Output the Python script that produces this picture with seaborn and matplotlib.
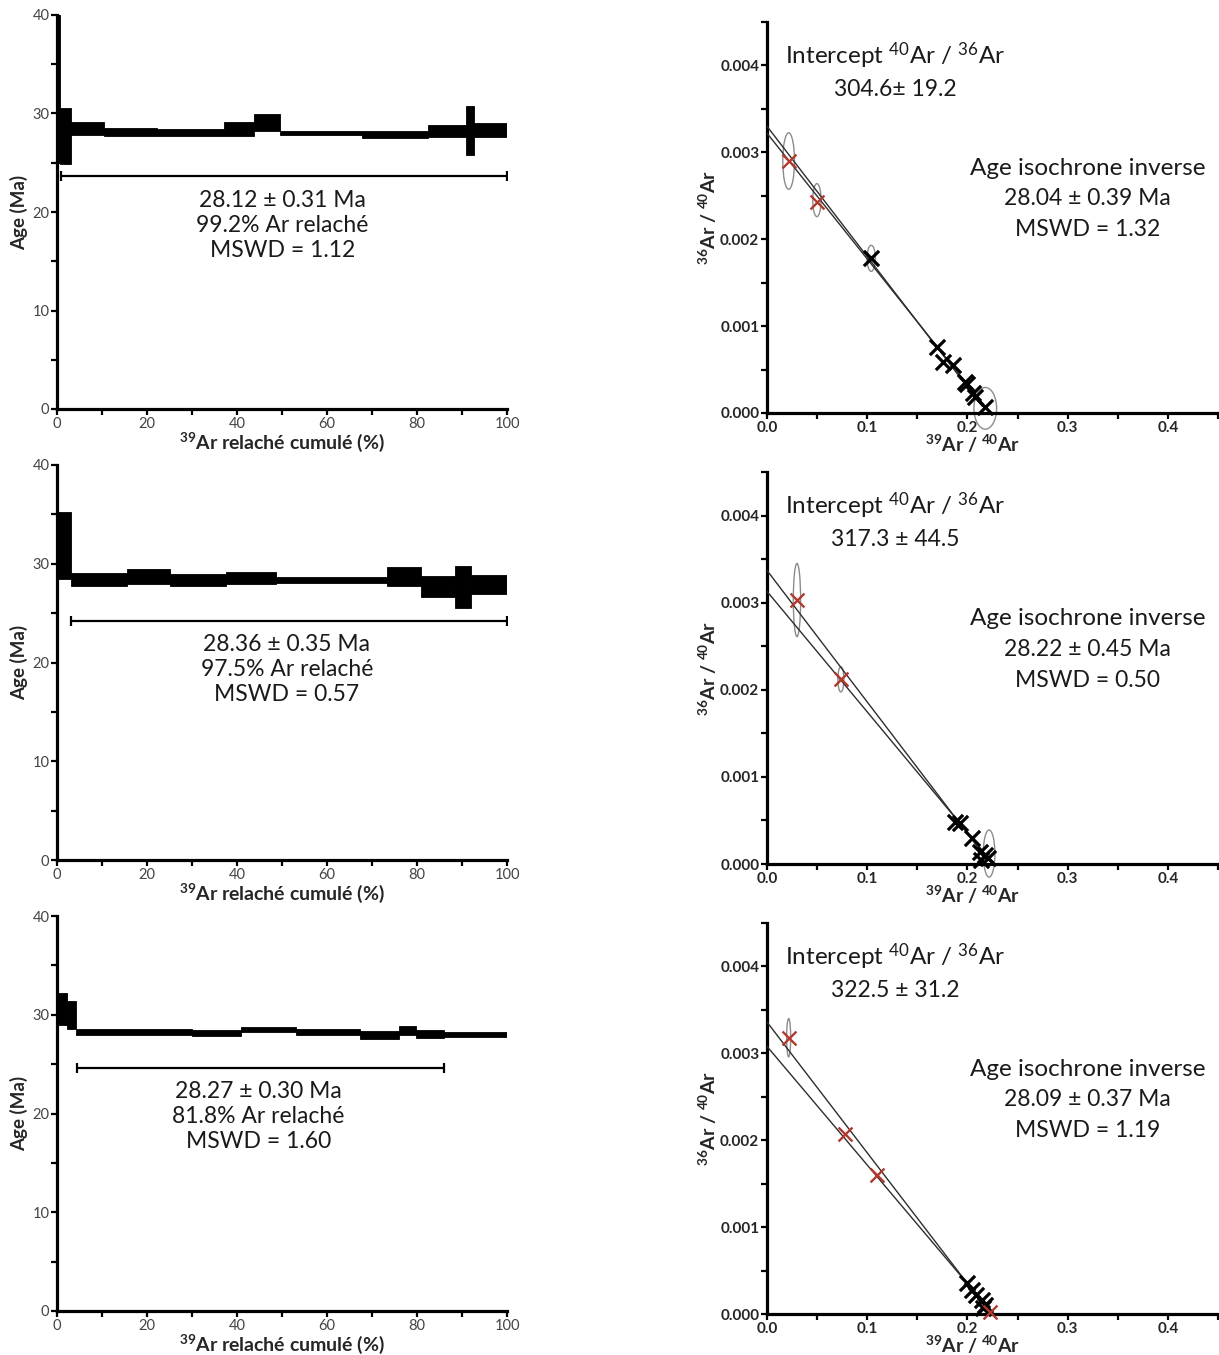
import numpy as np
import matplotlib
matplotlib.use("Agg")
import matplotlib.pyplot as plt
from matplotlib.patches import Ellipse
from matplotlib.ticker import MultipleLocator, FormatStrFormatter
import seaborn as sns

sns.set_style("ticks")
plt.rcParams["font.family"] = ["Lato", "DejaVu Sans"]
plt.rcParams["mathtext.fontset"] = "custom"
plt.rcParams["mathtext.rm"] = "Lato"
plt.rcParams["mathtext.bf"] = "Lato:bold"
plt.rcParams["mathtext.it"] = "Lato:italic"

RED = "#b0392e"
GREY_ELL = "#8c8c8c"

# --- age spectra: step edges (cumulative % 39Ar), age (Ma), half-height (Ma) ---
edges_1 = [0, 0.6, 3.0, 10.5, 22.2, 37.2, 43.7, 49.5, 67.8, 82.4, 90.9, 92.7, 100]
ages_1 = [34.0, 27.7, 28.5, 28.15, 28.08, 28.4, 29.07, 28.03, 27.9, 28.25, 28.27, 28.33]
errs_1 = [9.0, 2.85, 0.66, 0.42, 0.35, 0.7, 0.85, 0.2, 0.34, 0.6, 2.5, 0.67]
plateau_1 = [0.8, 99.9, 23.7]
label_1 = ["28.12 \u00b1 0.31 Ma", "99.2% Ar relach\u00e9", "MSWD = 1.12"]

edges_2 = [0, 3.0, 15.6, 25.0, 37.5, 48.7, 73.3, 80.9, 88.5, 91.9, 100]
ages_2 = [31.85, 28.4, 28.68, 28.37, 28.56, 28.39, 28.7, 27.7, 27.63, 27.88]
errs_2 = [3.35, 0.62, 0.76, 0.59, 0.64, 0.3, 1.0, 1.07, 2.14, 0.98]
plateau_2 = [3.0, 99.9, 24.2]
label_2 = ["28.36 \u00b1 0.35 Ma", "97.5% Ar relach\u00e9", "MSWD = 0.57"]

edges_3 = [0, 2.3, 4.3, 30.0, 40.9, 53.0, 67.4, 75.9, 79.8, 86.1, 100]
ages_3 = [30.6, 30.0, 28.25, 28.15, 28.5, 28.24, 27.95, 28.4, 28.03, 28.0]
errs_3 = [1.64, 1.4, 0.3, 0.3, 0.29, 0.29, 0.4, 0.47, 0.42, 0.29]
plateau_3 = [4.4, 86.1, 24.6]
label_3 = ["28.27 \u00b1 0.30 Ma", "81.8% Ar relach\u00e9", "MSWD = 1.60"]

# --- inverse isochrons: 39Ar/40Ar vs 36Ar/40Ar ---
iso1_x = [0.104, 0.1693, 0.1759, 0.1859, 0.1975, 0.2000, 0.2058, 0.2075, 0.2175]
iso1_y = [0.00178, 0.000758, 0.000586, 0.000549, 0.000358, 0.000330, 0.000230, 0.000186, 0.000072]
iso1_xr = [0.0216, 0.0498]
iso1_yr = [0.0029, 0.00243]
ell1_x = [0.0216, 0.0498, 0.104, 0.2178]
ell1_y = [0.0029, 0.00245, 0.00178, 0.000054]
ell1_w = [0.0117, 0.0083, 0.0083, 0.0226]
ell1_h = [0.00065, 0.00038, 0.0003, 0.00048]
fit1_y0 = [0.00330, 0.00322]
fit1_xint = [0.2200, 0.2225]
intercept_1 = "304.6\u00b1 19.2"
iso_label_1 = ["28.04 \u00b1 0.39 Ma", "MSWD = 1.32"]

iso2_x = [0.1875, 0.1925, 0.2042, 0.2125, 0.2140, 0.2175, 0.2207]
iso2_y = [0.000486, 0.000468, 0.000295, 0.000141, 0.000046, 0.000103, 0.000066]
iso2_xr = [0.0299, 0.0737]
iso2_yr = [0.00303, 0.00212]
ell2_x = [0.0299, 0.0737, 0.2216]
ell2_y = [0.00303, 0.00212, 0.00012]
ell2_w = [0.0073, 0.006, 0.0116]
ell2_h = [0.00084, 0.00029, 0.00054]
fit2_y0 = [0.00337, 0.00313]
fit2_xint = [0.2232, 0.2262]
intercept_2 = "317.3 \u00b1 44.5"
iso_label_2 = ["28.22 \u00b1 0.45 Ma", "MSWD = 0.50"]

iso3_x = [0.1992, 0.2042, 0.2090, 0.2142, 0.2175, 0.2158]
iso3_y = [0.000354, 0.000277, 0.000220, 0.000161, 0.000104, 0.000066]
iso3_xr = [0.0216, 0.078, 0.1095, 0.2224]
iso3_yr = [0.003175, 0.00207, 0.0016, 0.000027]
ell3_x = [0.0216]
ell3_y = [0.00318]
ell3_w = [0.004]
ell3_h = [0.00044]
fit3_y0 = [0.00336, 0.00308]
fit3_xint = [0.2233, 0.2256]
intercept_3 = "322.5 \u00b1 31.2"
iso_label_3 = ["28.09 \u00b1 0.37 Ma", "MSWD = 1.19"]

TXT = 16.5
fig = plt.figure(figsize=(12.19, 13.55), dpi=100)


def style_axes(ax):
    sns.despine(ax=ax)
    for s in ["left", "bottom"]:
        ax.spines[s].set_linewidth(2.3)
        ax.spines[s].set_color("black")
    ax.tick_params(which="both", direction="out", length=4, width=1.6, color="black")


def draw_spectrum(ax, edges, ages, errs, plateau, lines, text_x, text_y):
    edges = np.array(edges)
    ages = np.array(ages)
    errs = np.array(errs)
    ax.bar(edges[:-1], 2 * errs, bottom=ages - errs, width=np.diff(edges),
           align="edge", color="black", linewidth=0.6, edgecolor="black")
    x0, x1, yp = plateau
    ax.errorbar((x0 + x1) / 2, yp, xerr=(x1 - x0) / 2, fmt="none", ecolor="black",
                elinewidth=1.6, capsize=3.5, capthick=1.6)
    for i, t in enumerate(lines):
        ax.text(text_x, text_y - 2.53 * i, t, ha="center", va="baseline",
                fontsize=TXT, color="#1a1a1a")
    ax.set_xlim(0, 100)
    ax.set_ylim(0, 40)
    ax.xaxis.set_major_locator(MultipleLocator(20))
    ax.xaxis.set_minor_locator(MultipleLocator(10))
    ax.yaxis.set_major_locator(MultipleLocator(10))
    ax.yaxis.set_minor_locator(MultipleLocator(5))
    style_axes(ax)
    ax.tick_params(labelsize=10.5, labelcolor="#444444", pad=1.5)
    ax.set_ylabel("Age (Ma)", fontsize=13.5, fontweight="bold", labelpad=3)
    ax.set_xlabel("$^{\\mathbf{39}}$Ar relach\u00e9 cumul\u00e9 (%)",
                  fontsize=14, fontweight="bold", labelpad=0)


def draw_isochron(ax, xs, ys, xr, yr, ex, ey, ew, eh, y0s, xints, intercept, labels):
    for cx, cy, w, h in zip(ex, ey, ew, eh):
        ax.add_patch(Ellipse((cx, cy), w, h, fill=False, edgecolor=GREY_ELL,
                             linewidth=1.0, clip_on=False, zorder=2))
    for y0, xi in zip(y0s, xints):
        lx = np.array([0.0, 0.215])
        sns.lineplot(x=lx, y=y0 * (1 - lx / xi), ax=ax, color="#2e2e2e",
                     linewidth=1.0, zorder=3)
    sns.scatterplot(x=xs, y=ys, marker="x", color="black", s=120, linewidth=2.3,
                    ax=ax, zorder=4, clip_on=False)
    sns.scatterplot(x=xr, y=yr, marker="x", color=RED, s=100, linewidth=1.7,
                    ax=ax, zorder=4, clip_on=False)
    ax.text(0.128, 0.004015, r"Intercept $^{40}$Ar / $^{36}$Ar", ha="center",
            va="baseline", fontsize=17.5, color="#1a1a1a")
    ax.text(0.128, 0.003654, intercept, ha="center", va="baseline",
            fontsize=TXT, color="#1a1a1a")
    ax.text(0.32, 0.00274, "Age isochrone inverse", ha="center", va="baseline",
            fontsize=17.5, color="#1a1a1a")
    for i, t in enumerate(labels):
        ax.text(0.32, 0.002389 - 0.000355 * i, t, ha="center", va="baseline",
                fontsize=TXT, color="#1a1a1a")
    ax.set_xlim(0, 0.45)
    ax.set_ylim(0, 0.0045)
    ax.xaxis.set_major_locator(MultipleLocator(0.1))
    ax.xaxis.set_minor_locator(MultipleLocator(0.05))
    ax.yaxis.set_major_locator(MultipleLocator(0.001))
    ax.yaxis.set_minor_locator(MultipleLocator(0.0005))
    ax.xaxis.set_major_formatter(FormatStrFormatter("%.1f"))
    ax.yaxis.set_major_formatter(FormatStrFormatter("%.3f"))
    style_axes(ax)
    ax.tick_params(labelsize=11, pad=1.5)
    for lab in ax.get_xticklabels() + ax.get_yticklabels():
        lab.set_fontweight("bold")
    ax.set_ylabel("$^{\\mathbf{36}}$Ar / $^{\\mathbf{40}}$Ar", fontsize=14,
                  fontweight="bold", labelpad=1)
    ax.set_xlabel("$^{\\mathbf{39}}$Ar / $^{\\mathbf{40}}$Ar", fontsize=14,
                  fontweight="bold")
    ax.xaxis.set_label_coords(0.455, -0.05)


W, H = 1219.0, 1355.0
left_boxes = [(57, 15, 409), (57, 465, 860), (57, 916, 1311)]
right_boxes = [(767, 22, 413), (767, 472, 864), (767, 923, 1314)]

spectra = [
    (edges_1, ages_1, errs_1, plateau_1, label_1, 50.1, 20.54),
    (edges_2, ages_2, errs_2, plateau_2, label_2, 51.1, 21.16),
    (edges_3, ages_3, errs_3, plateau_3, label_3, 44.8, 21.6),
]
isochrons = [
    (iso1_x, iso1_y, iso1_xr, iso1_yr, ell1_x, ell1_y, ell1_w, ell1_h, fit1_y0, fit1_xint, intercept_1, iso_label_1),
    (iso2_x, iso2_y, iso2_xr, iso2_yr, ell2_x, ell2_y, ell2_w, ell2_h, fit2_y0, fit2_xint, intercept_2, iso_label_2),
    (iso3_x, iso3_y, iso3_xr, iso3_yr, ell3_x, ell3_y, ell3_w, ell3_h, fit3_y0, fit3_xint, intercept_3, iso_label_3),
]

for (x0, top, bot), spec in zip(left_boxes, spectra):
    ax = fig.add_axes([x0 / W, 1 - bot / H, 450 / W, (bot - top) / H])
    draw_spectrum(ax, *spec)

for (x0, top, bot), iso in zip(right_boxes, isochrons):
    ax = fig.add_axes([x0 / W, 1 - bot / H, 451 / W, (bot - top) / H])
    draw_isochron(ax, *iso)

fig.savefig("out.png", dpi=100)
